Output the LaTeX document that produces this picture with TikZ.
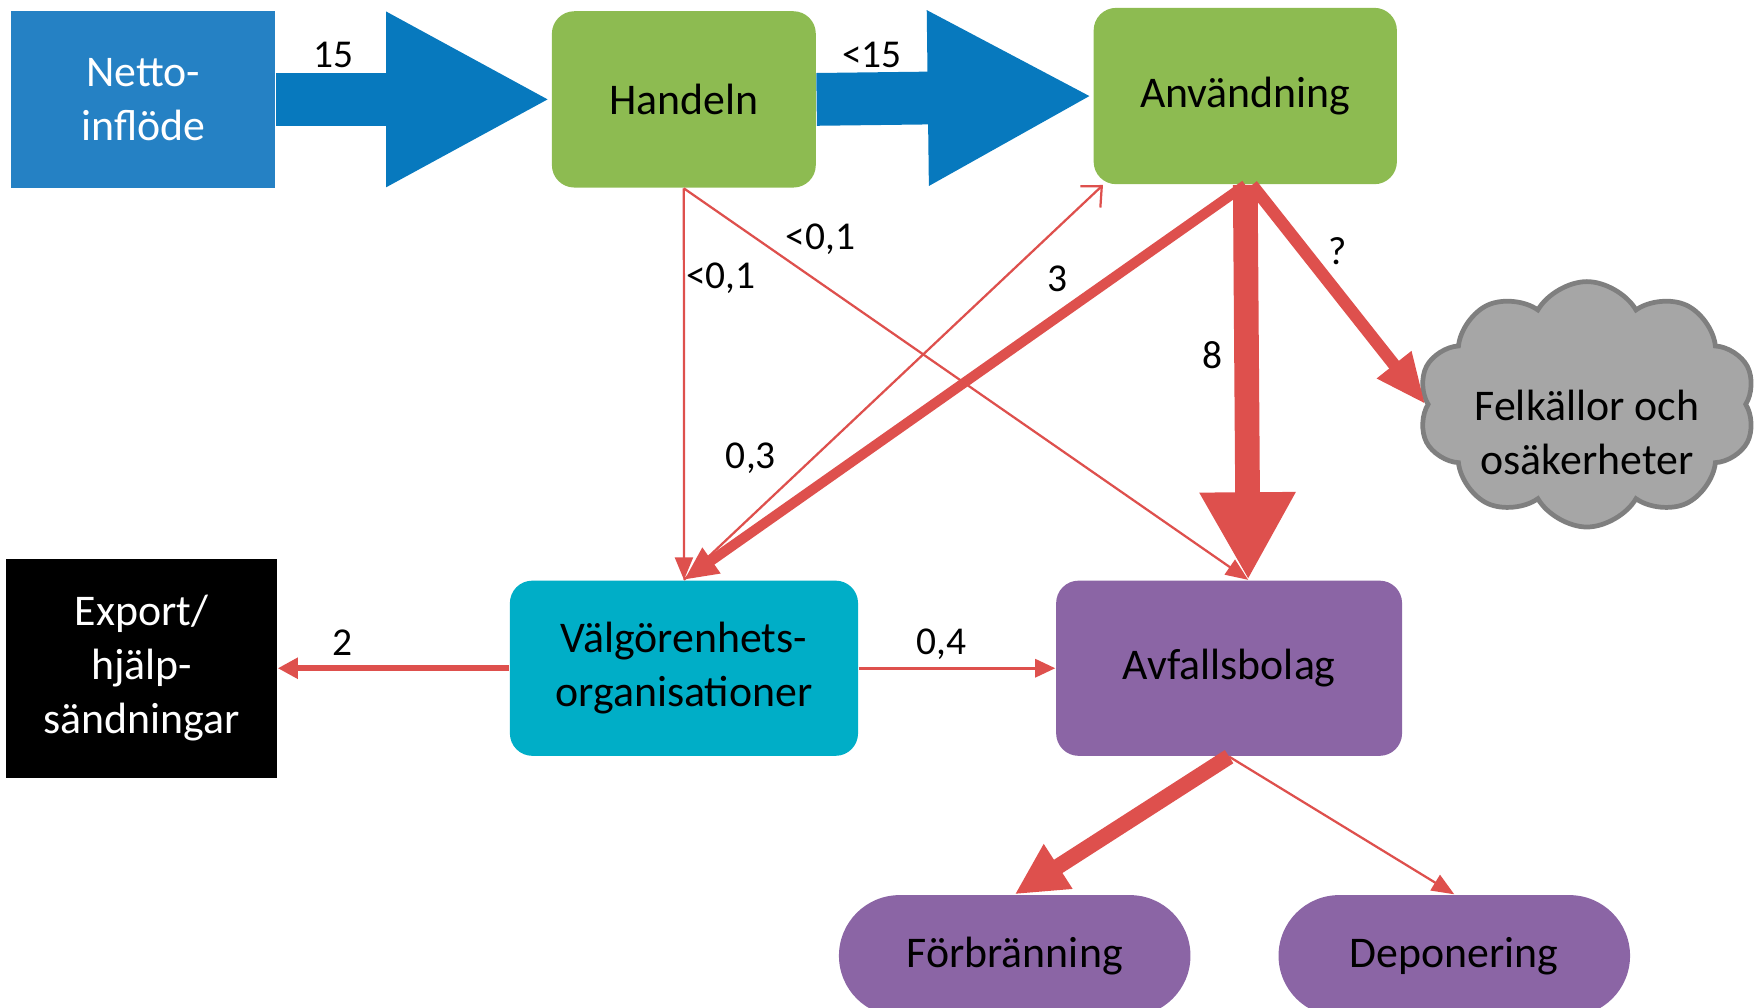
\documentclass[tikz,border=0pt]{standalone}
\usepackage{fontspec}
\setmainfont{Carlito}
\usetikzlibrary{positioning,arrows.meta,shapes.symbols}
\definecolor{inblue}{RGB}{37,129,196}
\definecolor{arrblue}{RGB}{7,121,190}
\definecolor{boxgreen}{RGB}{141,187,81}
\definecolor{boxteal}{RGB}{0,174,199}
\definecolor{boxpurple}{RGB}{139,101,165}
\definecolor{flowred}{RGB}{222,80,77}
\definecolor{cloudfill}{RGB}{166,166,166}
\definecolor{cloudline}{RGB}{127,127,127}
\newcommand\boxfont{\fontsize{11.1}{13.7}\selectfont}
\newcommand\lblfont{\fontsize{10}{12}\selectfont}
\tikzset{
  box/.style={rectangle, inner sep=0pt, align=center, font=\boxfont},
  bluebox/.style={fill=inblue, text=white},
  greenbox/.style={fill=boxgreen, rounded corners=2mm},
  tealbox/.style={fill=boxteal, rounded corners=2mm},
  purplebox/.style={fill=boxpurple, rounded corners=2mm},
  blackbox/.style={fill=black, text=white},
  pill/.style={fill=boxpurple, rounded corners=5.4mm},
  cloudnode/.style={cloud, cloud puffs=10, cloud puff arc=120, aspect=1.6, inner sep=0pt,
                    fill=cloudfill, draw=cloudline, line width=1.2pt, align=center, font=\boxfont},
  bigflow/.style={draw=arrblue, line width=4.7mm, -{Triangle[length=14.7mm, width=14.5mm]}},
  flow/.style={draw=flowred, line width=0.2mm, -{Triangle[length=2mm, width=1.6mm]}},
  lbl/.style={font=\lblfont, inner sep=0pt},
}

\begin{document}
\begin{tikzpicture}[x=0.1mm, y=-0.1mm]
  \useasboundingbox (0,0) rectangle (1568,897);
  \node[box, bluebox, minimum width=23.5mm, minimum height=15.7mm] (netto) at (127.5,88.5) {Netto-\\inflöde};
  \node[box, greenbox, minimum width=23.5mm, minimum height=15.7mm] (handeln) [right=24.5mm of netto] {Handeln};
  \node[box, greenbox, minimum width=27mm, minimum height=15.7mm, yshift=0.3mm] (anv) [right=24.6mm of handeln] {Användning};
  \node[box, tealbox, minimum width=31mm, minimum height=15.6mm] (vg) at (609,595) {Välgörenhets-\\organisationer};
  \node[box, blackbox, minimum width=24.1mm, minimum height=19.5mm] (export) [left=20.6mm of vg] {Export/\\hjälp-\\sändningar};
  \node[box, purplebox, minimum width=30.8mm, minimum height=15.6mm] (avf) [right=17.5mm of vg] {Avfallsbolag};
  \node[box, pill, minimum width=31.3mm, minimum height=10.8mm] (forb) at (903.5,851) {Förbränning};
  \node[box, pill, minimum width=31.3mm, minimum height=10.8mm] (dep) [right=7.7mm of forb] {Deponering};
  \node[cloudnode, minimum width=24mm, minimum height=14mm] (cloud) at (1413,360)
    {\raisebox{-2.9mm}[\height][\depth]{\begin{tabular}{@{}c@{}}Felkällor och\\osäkerheter\end{tabular}}};

  % inflow
  \draw[bigflow] (netto.east) -- (handeln.west) node[lbl, pos=0.21, yshift=4mm] {15};
  \draw[bigflow] (handeln.east) -- (anv.west) node[lbl, pos=0.2, yshift=3.9mm] {<15};

  % thin flows
  \draw[flow] (handeln.south) -- (vg.north) node[lbl, pos=0.23, xshift=3.3mm] {<0,1};
  \draw[flow] (handeln.south) -- ([xshift=1.7mm]avf.north) node[lbl, pos=0.2, xshift=2.1mm, yshift=2.4mm] {<0,1};
  \draw[flow, -{Straight Barb[length=1.4mm, width=2.6mm]}] (vg.north) -- ([xshift=0.9mm]anv.south west)
    node[lbl, pos=0.2, xshift=-1.5mm, yshift=3.8mm] {0,3};
  \draw[flow, line width=0.3mm, -{Triangle[length=1.8mm, width=1.6mm]}] (vg.east) -- (avf.west)
    node[lbl, pos=0.42, yshift=2.1mm] {0,4};
  \draw[flow] (avf.south) -- (dep.north);

  % thick flows
  \draw[flow, line width=0.5mm, -{Triangle[length=1.8mm, width=1.8mm]}] (vg.west) -- (export.east)
    node[lbl, pos=0.72, yshift=2.3mm] {2};
  \draw[flow, line width=0.9mm, -{Triangle[length=3mm, width=2.6mm]}] (anv.south) -- (vg.north)
    node[lbl, pos=0.25, xshift=-4.2mm, yshift=0.4mm] {3};
  \draw[flow, line width=2.2mm, -{Triangle[length=7.8mm, width=8mm]}] (anv.south) -- ([xshift=1.7mm]avf.north)
    node[lbl, pos=0.43, xshift=-3mm] {8};
  \draw[flow, line width=1.1mm, -{Triangle[length=4.5mm, width=3.6mm]}] ([xshift=0.6mm]anv.south) -- (cloud.west)
    node[lbl, pos=0.3, xshift=3mm] {?};
  \draw[flow, line width=1.4mm, -{Triangle[length=4.6mm, width=4.4mm]}] (avf.south) -- (forb.north);
\end{tikzpicture}
\end{document}
